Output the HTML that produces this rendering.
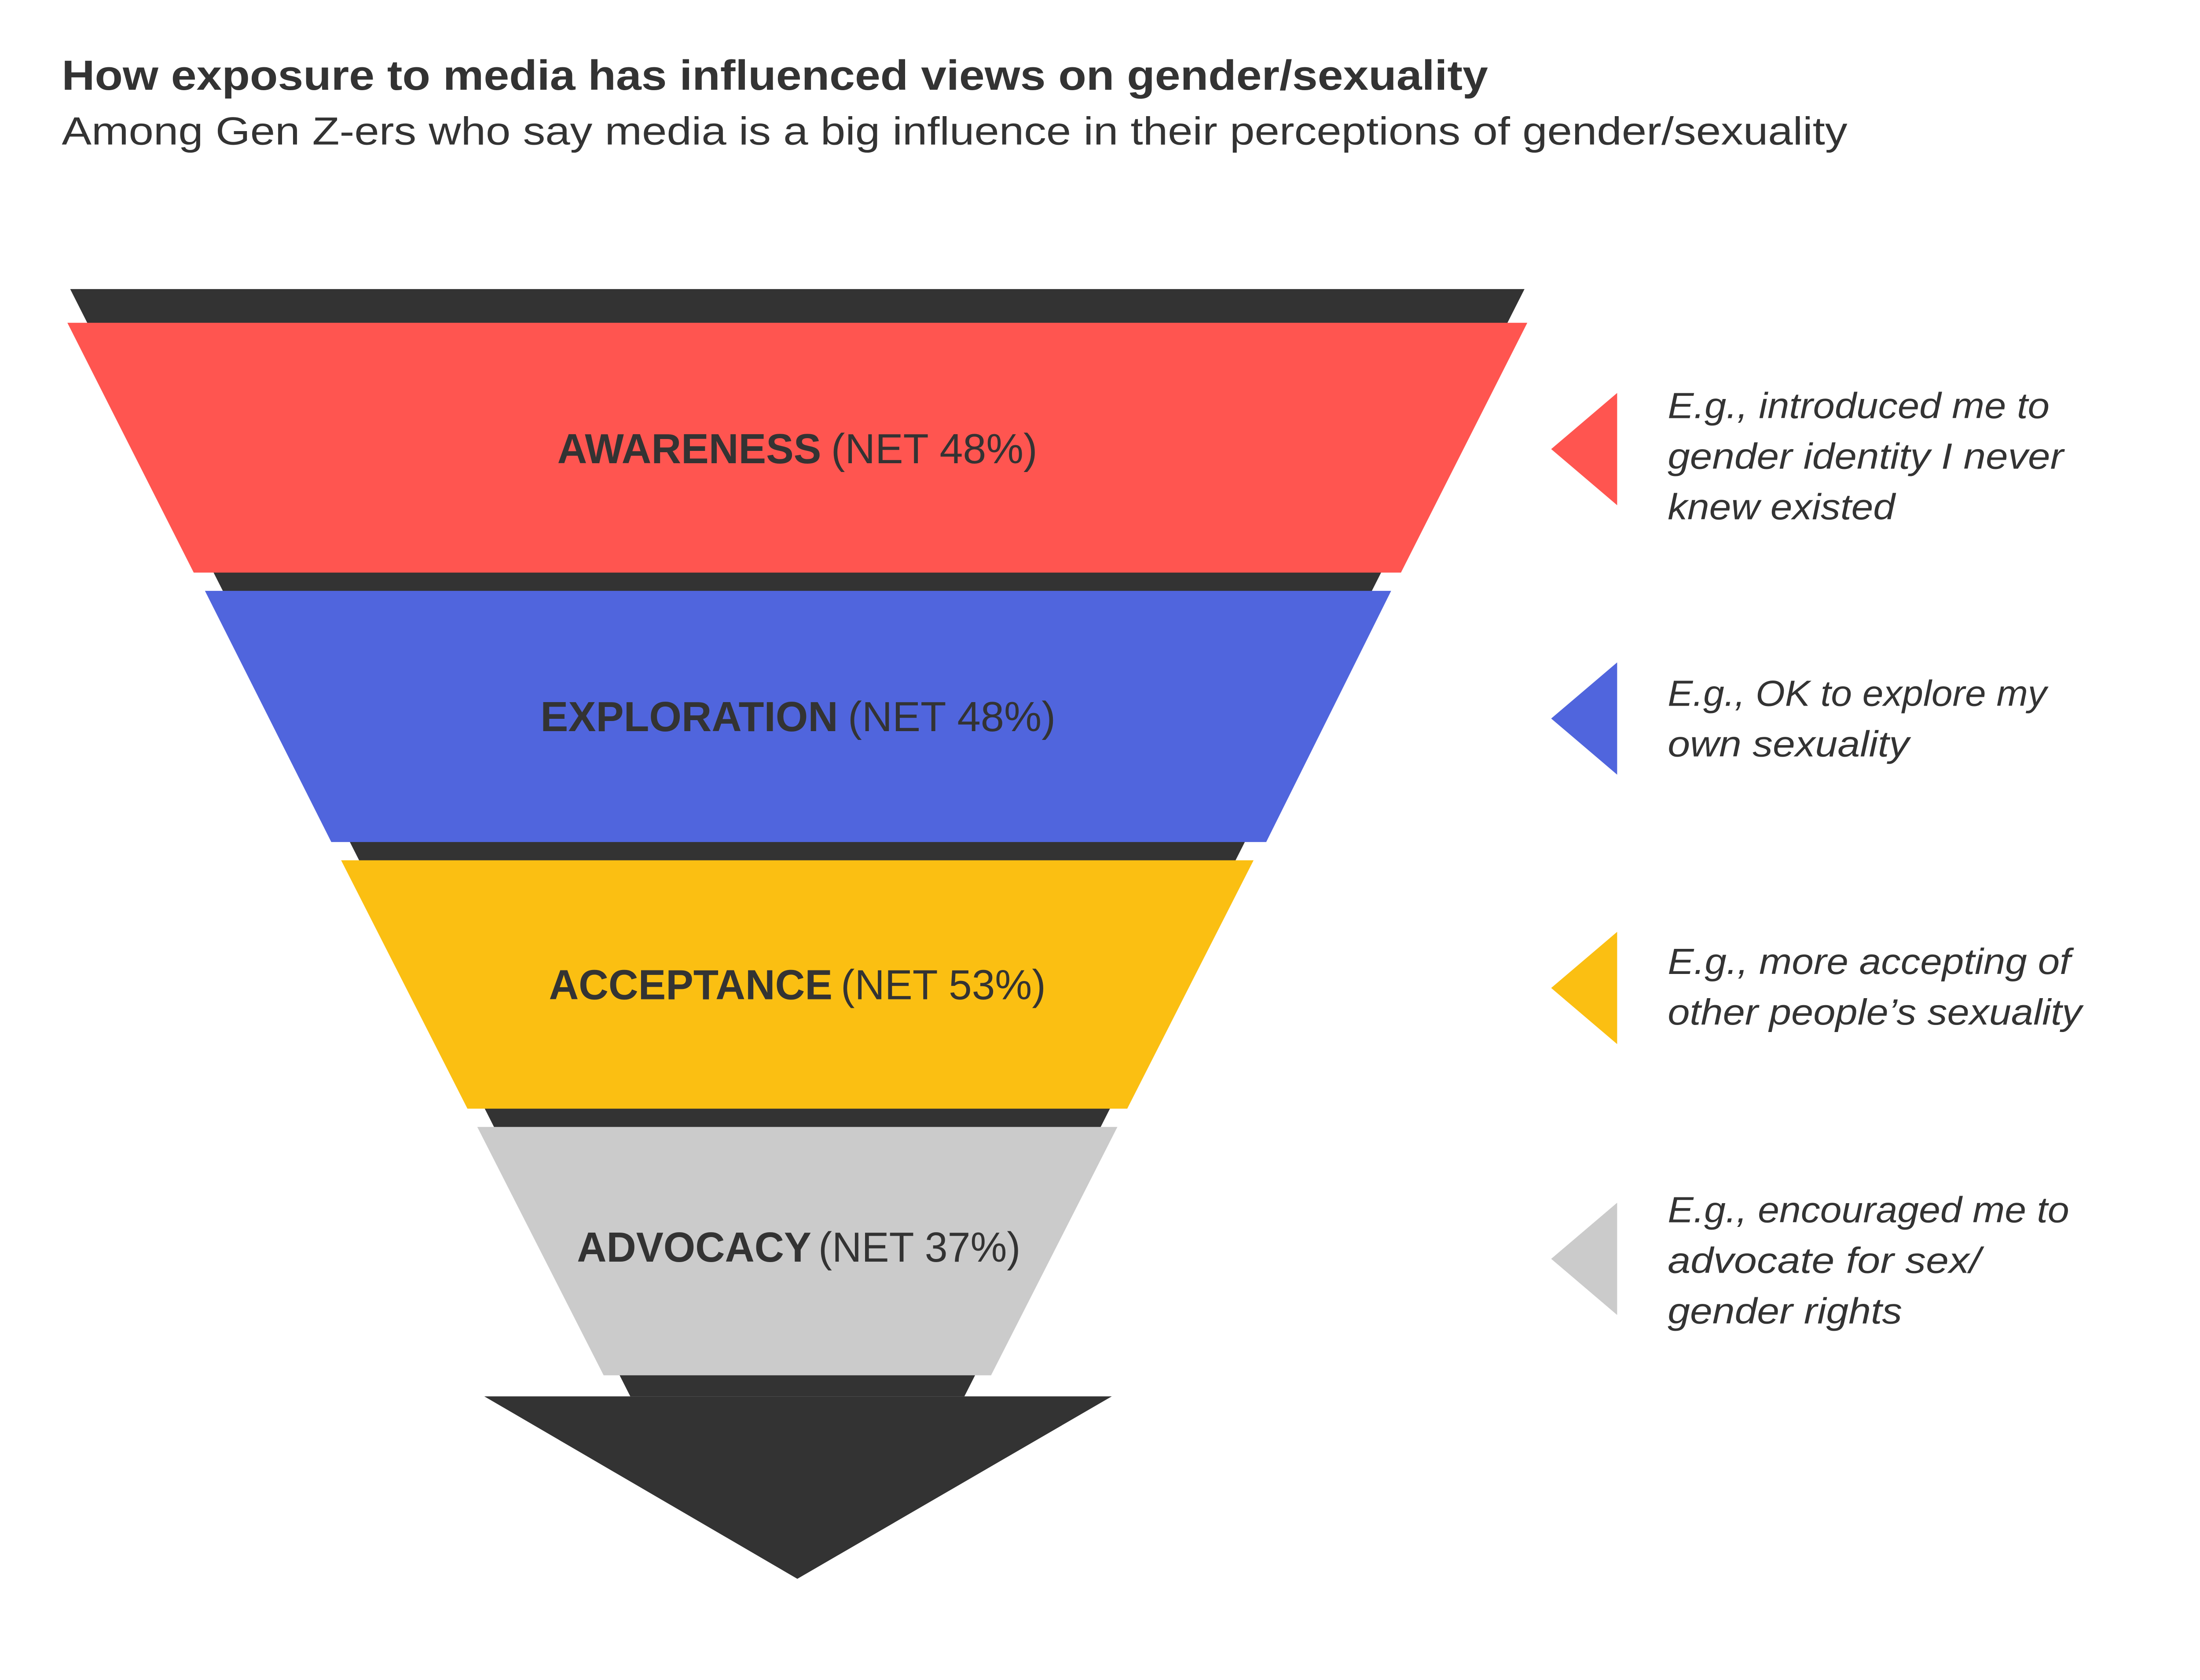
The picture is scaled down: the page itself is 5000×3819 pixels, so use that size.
<!DOCTYPE html>
<html><head><meta charset="utf-8"><style>
html,body{margin:0;padding:0;background:#fff;}
svg{display:block;}
text{font-family:"Liberation Sans",sans-serif;fill:#333;}
.b{font-weight:bold;font-size:30px;}
.n{font-size:30px;}
.i{font-style:italic;font-size:26px;}
</style></head><body>
<svg width="5000" height="3819" viewBox="0 0 1567.2 1197.1" preserveAspectRatio="none" xmlns="http://www.w3.org/2000/svg">
<rect width="1567.2" height="1197.1" fill="#fff"/>
<text x="44" y="64" class="b" font-size="30" textLength="1016" lengthAdjust="spacingAndGlyphs">How exposure to media has influenced views on gender/sexuality</text>
<text x="44" y="103" font-size="28" textLength="1272" lengthAdjust="spacingAndGlyphs">Among Gen Z-ers who say media is a big influence in their perceptions of gender/sexuality</text>

<polygon points="50,206 1086,206 687,995 449,995" fill="#333"/>
<polygon points="48,230 1088,230 998,408 138,408" fill="#FF5550"/>
<polygon points="146,421 991,421 902,600 236,600" fill="#5065DD"/>
<polygon points="243,613 893,613 803,790 333,790" fill="#FBBF12"/>
<polygon points="340,803 796,803 706,980 430,980" fill="#CBCBCB"/>
<polygon points="345,995 792,995 568,1125" fill="#333"/>

<text x="397" y="330" class="b" textLength="188" lengthAdjust="spacingAndGlyphs">AWARENESS</text>
<text x="592" y="330" class="n" textLength="147" lengthAdjust="spacingAndGlyphs">(NET 48%)</text>
<text x="385" y="521" class="b" textLength="212" lengthAdjust="spacingAndGlyphs">EXPLORATION</text>
<text x="604" y="521" class="n" textLength="148" lengthAdjust="spacingAndGlyphs">(NET 48%)</text>
<text x="391" y="712" class="b" textLength="202" lengthAdjust="spacingAndGlyphs">ACCEPTANCE</text>
<text x="599" y="712" class="n" textLength="146" lengthAdjust="spacingAndGlyphs">(NET 53%)</text>
<text x="411" y="899" class="b" textLength="167" lengthAdjust="spacingAndGlyphs">ADVOCACY</text>
<text x="583" y="899" class="n" textLength="144" lengthAdjust="spacingAndGlyphs">(NET 37%)</text>

<polygon points="1105,320 1152,280 1152,360" fill="#FF5550"/>
<polygon points="1105,512 1152,472 1152,552" fill="#5065DD"/>
<polygon points="1105,704 1152,664 1152,744" fill="#FBBF12"/>
<polygon points="1105,897 1152,857 1152,937" fill="#CBCBCB"/>

<text x="1188" y="298" class="i" textLength="272" lengthAdjust="spacingAndGlyphs">E.g., introduced me to</text>
<text x="1188" y="334" class="i" textLength="282" lengthAdjust="spacingAndGlyphs">gender identity I never</text>
<text x="1188" y="370" class="i" textLength="162" lengthAdjust="spacingAndGlyphs">knew existed</text>
<text x="1188" y="503" class="i" textLength="270" lengthAdjust="spacingAndGlyphs">E.g., OK to explore my</text>
<text x="1188" y="539" class="i" textLength="172" lengthAdjust="spacingAndGlyphs">own sexuality</text>
<text x="1188" y="694" class="i" textLength="287" lengthAdjust="spacingAndGlyphs">E.g., more accepting of</text>
<text x="1188" y="730" class="i" textLength="295" lengthAdjust="spacingAndGlyphs">other people’s sexuality</text>
<text x="1188" y="871" class="i" textLength="286" lengthAdjust="spacingAndGlyphs">E.g., encouraged me to</text>
<text x="1188" y="907" class="i" textLength="223" lengthAdjust="spacingAndGlyphs">advocate for sex/</text>
<text x="1188" y="943" class="i" textLength="167" lengthAdjust="spacingAndGlyphs">gender rights</text>
</svg>
</body></html>
